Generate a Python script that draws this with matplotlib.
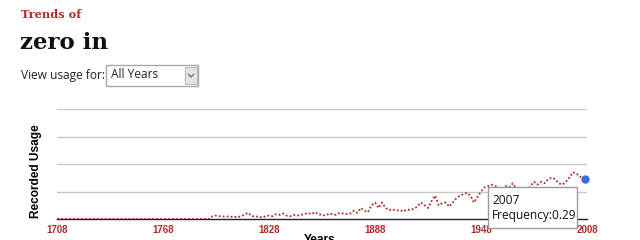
import matplotlib
matplotlib.use("Agg")
import matplotlib.pyplot as plt
from matplotlib.patches import Rectangle
from matplotlib.lines import Line2D

# data
years = [1708, 1794,
         1796, 1798, 1800, 1802, 1804, 1806, 1808, 1810, 1812, 1814,
         1816, 1818, 1820, 1822, 1824, 1826, 1828, 1830, 1832, 1834,
         1836, 1838, 1840, 1842, 1844, 1846, 1848, 1850, 1852, 1854,
         1856, 1858, 1860, 1862, 1864, 1866, 1868, 1870, 1872, 1874,
         1876, 1878, 1880, 1882, 1884, 1886, 1888, 1890, 1892, 1894,
         1896, 1898, 1900, 1902, 1904, 1906, 1908, 1910, 1912, 1914,
         1916, 1918, 1920, 1922, 1924, 1926, 1928, 1930, 1932, 1934,
         1936, 1938, 1940, 1942, 1944, 1946, 1948, 1950, 1952, 1954,
         1956, 1958, 1960, 1962, 1964, 1966, 1968, 1970, 1972, 1974,
         1976, 1978, 1980, 1982, 1984, 1986, 1988, 1990, 1992, 1994,
         1996, 1998, 2000, 2002, 2004, 2006, 2007, 2008]
usage = [0.0, 0.0,
         0.02, 0.025, 0.02, 0.018, 0.02, 0.015, 0.018, 0.012, 0.02, 0.03,
         0.045, 0.025, 0.015, 0.02, 0.01, 0.02, 0.025, 0.02, 0.035, 0.03,
         0.04, 0.025, 0.02, 0.03, 0.025, 0.03, 0.035, 0.045, 0.035, 0.05,
         0.035, 0.03, 0.025, 0.04, 0.035, 0.03, 0.045, 0.04, 0.035, 0.04,
         0.06, 0.045, 0.08, 0.06, 0.05, 0.10, 0.12, 0.08, 0.12, 0.08,
         0.065, 0.07, 0.06, 0.065, 0.055, 0.07, 0.065, 0.075, 0.09, 0.12,
         0.10, 0.08, 0.13, 0.17, 0.10, 0.115, 0.12, 0.09, 0.12, 0.15,
         0.17, 0.18, 0.19, 0.17, 0.12, 0.16, 0.20, 0.23, 0.24, 0.25,
         0.24, 0.23, 0.22, 0.24, 0.23, 0.26, 0.22, 0.20, 0.22, 0.21,
         0.24, 0.27, 0.25, 0.27, 0.26, 0.29, 0.30, 0.29, 0.26, 0.25,
         0.27, 0.30, 0.34, 0.33, 0.31, 0.28, 0.29, 0.27]
year_ticks = [1708, 1768, 1828, 1888, 1948, 2008]
grid_vals = [0.2, 0.4, 0.6, 0.8]
hover_year = 2007
hover_value = 0.29

RED = "#b22a2a"
W, H = 640, 240


def fx(px):
    return px / W


def fy(py):
    return 1 - py / H


fig = plt.figure(figsize=(6.4, 2.4), dpi=100)
ax = fig.add_axes([fx(57), fy(219), fx(587) - fx(57), fy(109) - fy(219)])

ax.plot(years, usage, color=RED, linewidth=1.3, linestyle=(0, (1, 1.2)),
        zorder=3)
ax.set_xlim(1708, 2008)
ax.set_ylim(0, 0.8)
ax.set_yticks(grid_vals)
ax.yaxis.grid(True, color="#c8c8c8", linewidth=1)
ax.set_axisbelow(True)
ax.tick_params(axis="y", length=0, labelleft=False)
ax.set_xticks(year_ticks)
ax.set_xticklabels([str(y) for y in year_ticks])
ax.tick_params(axis="x", length=0, pad=4, labelsize=7, labelcolor=RED)
for lbl in ax.get_xticklabels():
    lbl.set_fontweight("bold")
    lbl.set_family("Liberation Sans")
for side in ("top", "right", "left"):
    ax.spines[side].set_visible(False)
ax.spines["bottom"].set_color("#222222")
ax.spines["bottom"].set_linewidth(1)

# hovered point
ax.plot([hover_year], [hover_value], "o", color="#3a6fd8", markersize=5,
        clip_on=False, zorder=4)

# header
fig.text(fx(21), fy(15), "Trends of", color=RED, fontsize=8.2,
         fontweight="bold", family="DejaVu Serif", va="center")
fig.text(fx(20), fy(43), "zero in", color="#111111", fontsize=16.5,
         fontweight="bold", family="DejaVu Serif", va="center")
fig.text(fx(21), fy(75), "View usage for:", color="#222222", fontsize=8.6,
         family="Open Sans", va="center")
fig.add_artist(Rectangle((fx(106), fy(86)), fx(198) - fx(106), fy(65) - fy(86),
                         transform=fig.transFigure, facecolor="white",
                         edgecolor="#a8a8a8", linewidth=1))
fig.add_artist(Rectangle((fx(185), fy(84)), fx(197) - fx(185), fy(67) - fy(84),
                         transform=fig.transFigure, facecolor="#e4e4e4",
                         edgecolor="#b8b8b8", linewidth=0.8))
fig.add_artist(Line2D([fx(188.5), fx(191), fx(193.5)], [fy(74.5), fy(77), fy(74.5)],
                      transform=fig.transFigure, color="#666666", linewidth=0.9))
fig.text(fx(111), fy(75), "All Years", color="#222222", fontsize=8.6,
         family="Open Sans", va="center")

# axis labels
fig.text(fx(36), fy(171), "Recorded Usage", rotation=90, fontsize=8.6,
         fontweight="bold", family="Liberation Sans", ha="center", va="center")
fig.text(fx(320), fy(234), "Years", fontsize=8.6, fontweight="bold",
         family="Liberation Sans", ha="center", va="top")

# tooltip
fig.add_artist(Rectangle((fx(488), fy(228)), fx(577) - fx(488), fy(187) - fy(228),
                         transform=fig.transFigure, facecolor="white",
                         edgecolor="#9a9a9a", linewidth=1, zorder=5))
fig.text(fx(492), fy(200), str(hover_year), fontsize=8.6, family="Open Sans",
         color="#111111", va="center", zorder=6)
fig.text(fx(492), fy(216), f"Frequency:{hover_value}", fontsize=8.6,
         family="Open Sans", color="#111111", va="center", zorder=6)

fig.savefig("out.png", dpi=100, facecolor="white")
plt.close(fig)
